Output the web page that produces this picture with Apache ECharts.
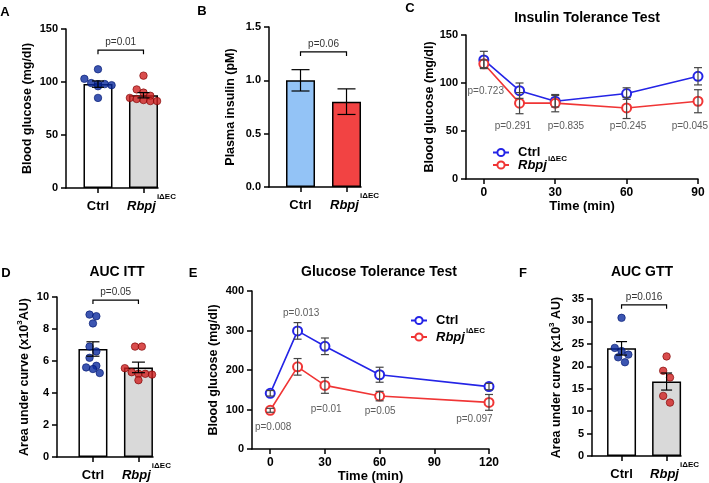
<!DOCTYPE html>
<html><head><meta charset="utf-8">
<script src="https://cdn.jsdelivr.net/npm/echarts@6/dist/echarts.min.js"></script>
<style>html,body{margin:0;padding:0;background:#fff}#c{width:709px;height:483px}</style>
</head><body><div id="c"></div>
<script>
// ---------------- DATA ----------------
const groups = ['Ctrl', 'Rbpj'];
// A: fasting blood glucose
const aMean = [98, 87.5];
const aSem = [3, 2.5];
const aCtrl = [112, 103, 99, 98, 98, 97, 96, 85];
const aRbpj = [106, 93, 90, 87, 85, 84, 83, 82, 82];
const aP = 'p=0.01';
// B: plasma insulin
const bMean = [1.0, 0.8];
const bSem = [0.1, 0.12];
const bP = 'p=0.06';
// C: insulin tolerance test
const cTime = [0, 15, 30, 60, 90];
const cCtrl = [124, 92, 81, 89, 107];
const cCtrlSem = [9, 8, 6, 6, 9];
const cRbpj = [120, 79, 79, 74, 81];
const cRbpjSem = [4, 11, 9, 11, 12];
const cP = ['p=0.723', 'p=0.291', 'p=0.835', 'p=0.245', 'p=0.045'];
// D: AUC ITT
const dMean = [6.75, 5.6];
const dSem = [0.45, 0.33];
const dCtrl = [8.9, 8.8, 8.35, 6.9, 6.6, 6.2, 5.7, 5.6, 5.5, 5.25];
const dRbpj = [6.9, 6.9, 5.55, 5.3, 5.2, 5.2, 5.15, 4.8];
const dP = 'p=0.05';
// E: glucose tolerance test
const eTime = [0, 15, 30, 60, 120];
const eCtrl = [141, 299, 260, 188, 158];
const eCtrlSem = [7, 21, 21, 19, 8];
const eRbpj = [98, 208, 161, 134, 118];
const eRbpjSem = [5, 21, 20, 12, 20];
const eP = ['p=0.008', 'p=0.013', 'p=0.01', 'p=0.05', 'p=0.097'];
// F: AUC GTT
const fMean = [24.0, 16.6];
const fSem = [1.5, 1.9];
const fCtrl = [30.8, 24.1, 23.4, 22.6, 22.0, 20.9];
const fRbpj = [22.2, 19.0, 17.5, 13.4, 11.9];
const fP = 'p=0.016';
// tick values
const cXTicks = [0, 30, 60, 90];
const eXTicks = [0, 30, 60, 90, 120];

// ---------------- LAYOUT / STYLE ----------------
const FONT = '"Liberation Sans", Arial, Helvetica, sans-serif';
const BLUE = '#2424E6', RED = '#F03535';
const DOT_BLUE = '#0B2A9E', DOT_RED = '#CF2020';
const L = {
  A: {grid: {left: 66, top: 29, width: 92, height: 159}, x: [-0.703, 1.319], y: [0, 150, 50]},
  B: {grid: {left: 269, top: 27, width: 92, height: 160}, x: [-0.685, 1.315], y: [0, 1.5, 0.5]},
  C: {grid: {left: 466, top: 35, width: 232, height: 144}, x: [-7.5, 90], y: [0, 150, 50]},
  D: {grid: {left: 57, top: 297, width: 96, height: 160}, x: [-0.79, 1.32], y: [0, 10, 2]},
  E: {grid: {left: 252, top: 291, width: 237, height: 158}, x: [-10, 120], y: [0, 400, 100]},
  F: {grid: {left: 592, top: 299, width: 89, height: 157}, x: [-0.656, 1.32], y: [0, 35, 5]}
};
const order = ['A', 'B', 'C', 'D', 'E', 'F'];
const gi = k => order.indexOf(k);

const supRich = {
  c: {fontFamily: FONT, fontWeight: 'bold', fontSize: 13, color: '#000', lineHeight: 26},
  r: {fontFamily: FONT, fontWeight: 'bold', fontStyle: 'italic', fontSize: 13, color: '#000', lineHeight: 26, padding: [0, 0, 0, 16]},
  s: {fontFamily: FONT, fontWeight: 'bold', fontSize: 8, color: '#000', padding: [0, 0, 18, 1]}
};

function barXAxis(k) {
  return {
    type: 'value', gridIndex: gi(k), min: L[k].x[0], max: L[k].x[1],
    axisLine: {show: true, onZero: false, lineStyle: {color: '#000', width: 1.5}},
    axisTick: {show: true, customValues: [0, 1], length: 5, lineStyle: {color: '#000', width: 1.5}},
    axisLabel: {show: true, customValues: [0, 1], margin: 5,
      formatter: v => (Math.round(v) === 0 ? '{c|' + groups[0] + '}' : '{r|' + groups[1] + '}{s|iΔEC}'),
      rich: supRich},
    splitLine: {show: false}
  };
}
function lineXAxis(k, ticks) {
  return {
    type: 'value', gridIndex: gi(k), min: L[k].x[0], max: L[k].x[1],
    name: 'Time (min)', nameLocation: 'middle', nameGap: 20,
    nameTextStyle: {fontFamily: FONT, fontWeight: 'bold', fontSize: 13, color: '#000'},
    axisLine: {show: true, onZero: false, lineStyle: {color: '#000', width: 1.5}},
    axisTick: {show: true, customValues: ticks, length: 5, lineStyle: {color: '#000', width: 1.5}},
    axisLabel: {show: true, customValues: ticks, margin: 8, fontFamily: FONT, fontWeight: 'bold', fontSize: 12, color: '#000'},
    splitLine: {show: false}
  };
}
function yAxis(k, name, gap, fmt, nameRich) {
  const [mn, mx, iv] = L[k].y;
  const o = {
    type: 'value', gridIndex: gi(k), min: mn, max: mx, interval: iv,
    name, nameLocation: 'middle', nameGap: gap,
    nameTextStyle: {fontFamily: FONT, fontWeight: 'bold', fontSize: 12.5, color: '#000'},
    axisLine: {show: true, onZero: false, lineStyle: {color: '#000', width: 1.5}},
    axisTick: {show: true, length: 5, lineStyle: {color: '#000', width: 1.5}},
    axisLabel: {fontFamily: FONT, fontWeight: 'bold', fontSize: 11, color: '#000', margin: 8, formatter: fmt},
    splitLine: {show: false}
  };
  if (nameRich) o.nameTextStyle.rich = nameRich;
  return o;
}

// deterministic row-binned dot layout (pixel space) -> offsets in axis units
function swarm(vals, k) {
  const g = L[k].grid, yr = L[k].y[1] - L[k].y[0];
  const pxY = g.height / yr;
  const pxX = g.width / (L[k].x[1] - L[k].x[0]);
  const binH = 8, spacing = 6.8, maxRow = 5;
  const idx = vals.map((v, i) => i).sort((a, b) => vals[b] - vals[a]);
  const offs = new Array(vals.length);
  let bin = [];
  const flush = () => {
    const n = bin.length;
    bin.forEach((i, j) => { offs[i] = ((j - (n - 1) / 2) * spacing) / pxX; });
    bin = [];
  };
  idx.forEach(i => {
    if (bin.length && ((vals[bin[0]] - vals[i]) * pxY > binH || bin.length >= maxRow)) flush();
    bin.push(i);
  });
  flush();
  return offs;
}

const series = [];
function barPanel(k, mean, sem, ctrlVals, rbpjVals, colors, capPx, bracketLevel, pText) {
  const g = gi(k);
  series.push({
    type: 'bar', name: k + ' bars', xAxisIndex: g, yAxisIndex: g, barWidth: 29, z: 2,
    data: mean.map((m, i) => ({value: [i, m], itemStyle: {color: colors[i], borderColor: '#000', borderWidth: 1.5}}))
  });
  if (ctrlVals) {
    [ctrlVals, rbpjVals].forEach((vals, gIdx) => {
      const offs = swarm(vals, k);
      series.push({
        type: 'scatter', name: k + ' dots ' + gIdx, xAxisIndex: g, yAxisIndex: g, z: 3,
        symbolSize: 7.5,
        itemStyle: {color: gIdx ? DOT_RED : DOT_BLUE, borderColor: gIdx ? '#7A0000' : '#001670', borderWidth: 0.8},
        data: vals.map((v, i) => [gIdx + offs[i], v])
      });
    });
  }
  series.push(errSeries(g, mean.map((m, i) => [i, m, sem[i]]), capPx, '#000', 4));
  series.push(bracketSeries(g, bracketLevel, pText));
}
function errSeries(g, data, capPx, color, z) {
  return {
    type: 'custom', xAxisIndex: g, yAxisIndex: g, z, silent: true, data,
    encode: {x: 0, y: 1},
    renderItem(params, api) {
      const x = api.value(0), m = api.value(1), s = api.value(2);
      const t = api.coord([x, m + s]), b = api.coord([x, m - s]);
      const h = capPx / 2, st = {stroke: color, lineWidth: 1.2};
      return {type: 'group', children: [
        {type: 'line', shape: {x1: t[0], y1: t[1], x2: b[0], y2: b[1]}, style: st},
        {type: 'line', shape: {x1: t[0] - h, y1: t[1], x2: t[0] + h, y2: t[1]}, style: st},
        {type: 'line', shape: {x1: b[0] - h, y1: b[1], x2: b[0] + h, y2: b[1]}, style: st}
      ]};
    }
  };
}
function bracketSeries(g, level, text) {
  return {
    type: 'custom', xAxisIndex: g, yAxisIndex: g, z: 5, silent: true, data: [[0, 1, level]],
    encode: {x: [0, 1], y: 2},
    renderItem(params, api) {
      const a = api.coord([api.value(0), api.value(2)]), b = api.coord([api.value(1), api.value(2)]);
      const st = {stroke: '#000', lineWidth: 1.2, fill: null};
      return {type: 'group', children: [
        {type: 'polyline', shape: {points: [[a[0], a[1] + 4], [a[0], a[1]], [b[0], b[1]], [b[0], b[1] + 4]]}, style: st},
        {type: 'text', x: (a[0] + b[0]) / 2, y: a[1] - 8,
          style: {text, font: '10px ' + FONT, fill: '#333', align: 'center', verticalAlign: 'middle'}}
      ]};
    }
  };
}
function linePanel(k, time, ctrl, ctrlSem, rbpj, rbpjSem, pTexts, pPos) {
  const g = gi(k);
  [[ctrl, BLUE, 'Ctrl', ctrlSem], [rbpj, RED, 'Rbpj', rbpjSem]].forEach(([vals, col, nm, sem]) => {
    series.push({
      type: 'line', name: nm, xAxisIndex: g, yAxisIndex: g, z: 3,
      symbol: 'emptyCircle', symbolSize: 9,
      lineStyle: {color: col, width: 1.6},
      itemStyle: {color: col, borderColor: col, borderWidth: 1.6},
      data: time.map((t, i) => [t, vals[i]])
    });
    series.push(errSeries(g, time.map((t, i) => [t, vals[i], sem[i]]), 8, '#444', 4));
  });
  series.push({
    type: 'scatter', name: k + ' p', xAxisIndex: g, yAxisIndex: g, z: 6, silent: true,
    symbolSize: 1, itemStyle: {color: 'rgba(0,0,0,0)'},
    label: {show: true, position: 'inside', formatter: '{b}', fontFamily: FONT, fontSize: 10, color: '#333'},
    data: pTexts.map((t, i) => ({name: t, value: pPos[i]}))
  });
}

barPanel('A', aMean, aSem, aCtrl, aRbpj, ['#FFFFFF', '#D9D9D9'], 12, 130, aP);
barPanel('B', bMean, bSem, null, null, ['#93C3F6', '#F24343'], 18, 1.266, bP);
linePanel('C', cTime, cCtrl, cCtrlSem, cRbpj, cRbpjSem, cP,
  [[0.8, 91.7], [12.2, 55.2], [34.5, 55.2], [60.6, 55.2], [86.6, 55.2]]);
barPanel('D', dMean, dSem, dCtrl, dRbpj, ['#FFFFFF', '#D9D9D9'], 13, 9.81, dP);
linePanel('E', eTime, eCtrl, eCtrlSem, eRbpj, eRbpjSem, eP,
  [[1.6, 55.7], [17, 344], [30.7, 101], [60.3, 96], [112, 76]]);
barPanel('F', fMean, fSem, fCtrl, fRbpj, ['#FFFFFF', '#D9D9D9'], 11, 33.7, fP);

const auRich1 = {n: {fontFamily: FONT, fontWeight: 'bold', fontSize: 12.5, color: '#000'},
  s: {fontFamily: FONT, fontWeight: 'bold', fontSize: 8, color: '#000', padding: [0, 0, 10, 0]}};

const legendRich = {
  c: {fontFamily: FONT, fontWeight: 'bold', fontSize: 13, color: '#000', padding: [0, 0, 0, 4]},
  r: {fontFamily: FONT, fontWeight: 'bold', fontStyle: 'italic', fontSize: 13, color: '#000', padding: [0, 0, 0, 4]},
  s: {fontFamily: FONT, fontWeight: 'bold', fontSize: 8, color: '#000', padding: [0, 0, 12, 1]}
};
function legend(left, top, gap) {
  return {
    data: groups, left, top, orient: 'vertical', itemWidth: 16, itemHeight: 9, itemGap: gap,
    selectedMode: false, padding: 0,
    formatter: n => (n === 'Ctrl' ? '{c|Ctrl}' : '{r|Rbpj}{s|iΔEC}'),
    textStyle: {rich: legendRich}
  };
}

const texts = [
  ['A', 5, 12, 13], ['B', 202, 11, 13], ['C', 410, 8, 13], ['D', 6, 273, 13], ['E', 193, 273, 13], ['F', 523, 273, 13],
  ['Insulin Tolerance Test', 587, 18, 14], ['AUC ITT', 117, 272, 14],
  ['Glucose Tolerance Test', 379, 272, 14], ['AUC GTT', 642, 272, 14]
];

const option = {
  animation: false,
  backgroundColor: '#fff',
  textStyle: {fontFamily: FONT},
  grid: order.map(k => Object.assign({containLabel: false, outerBoundsMode: 'none'}, L[k].grid)),
  xAxis: [barXAxis('A'), barXAxis('B'), lineXAxis('C', cXTicks), barXAxis('D'), lineXAxis('E', eXTicks), barXAxis('F')],
  yAxis: [
    yAxis('A', 'Blood glucose (mg/dl)', 32),
    yAxis('B', 'Plasma insulin (pM)', 32, v => v.toFixed(1)),
    yAxis('C', 'Blood glucose (mg/dl)', 30),
    yAxis('D', '{n|Area under curve (x10}{s|3}{n|AU)}', 23, null, auRich1),
    yAxis('E', 'Blood glucose (mg/dl)', 32),
    yAxis('F', '{n|Area under curve (x10}{s|3}{n| AU)}', 26, null, auRich1)
  ],
  legend: [legend(492, 146, -4), legend(410, 314, 0)],
  series,
  graphic: texts.map(([t, x, y, fs]) => ({
    type: 'text', x, y, silent: true,
    style: {text: t, font: 'bold ' + fs + 'px ' + FONT, fill: '#000', align: 'center', verticalAlign: 'middle'}
  }))
};
const chart = echarts.init(document.getElementById('c'), null, {renderer: 'canvas'});
chart.setOption(option);
</script>
</body></html>
